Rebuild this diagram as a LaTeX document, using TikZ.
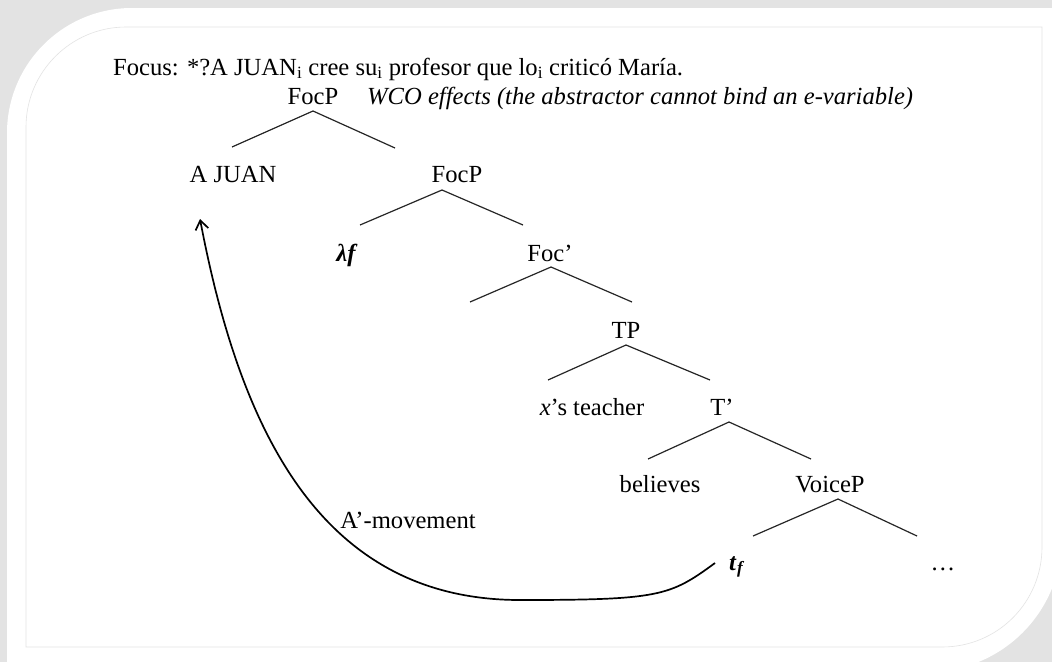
\documentclass[tikz,border=0pt]{standalone}
\usepackage{fontspec}
\setmainfont{Liberation Serif}
\usetikzlibrary{arrows.meta}
\begin{document}
\begin{tikzpicture}[x=1pt,y=-1pt,
  lbl/.style={font=\fontsize{24.6}{28}\selectfont, inner sep=0pt, anchor=base, text=black},
  branch/.style={line width=1.2pt, draw=black!85},
  mv/.style={line width=1.7pt, draw=black, -{Straight Barb[length=9pt,width=13pt,line width=1.7pt]}}]
\useasboundingbox (0,0) rectangle (1052,662);
% frame
\fill[gray!22] (0,0) rectangle (1052,662);
\fill[white] (7,672) -- (7,133) .. controls (7,64) and (63,8) .. (132,8) -- (1062,8) -- (1062,537) .. controls (1062,612) and (1002,672) .. (927,672) -- cycle;
\draw[gray!22, line width=0.6pt] (26,647) -- (26,127) .. controls (26,72) and (71,27) .. (126,27) -- (1042,27) -- (1042,547) .. controls (1042,602) and (998,647) .. (942,647) -- cycle;
% texts
\node[lbl, anchor=base west] (title) at (113,75) {Focus: *?A JUAN\textsubscript{i} cree su\textsubscript{i} profesor que lo\textsubscript{i} criticó María.};
\node[lbl] (FocPa) at (313,104) {FocP};
\node[lbl, anchor=base west, font=\fontsize{24.6}{28}\selectfont\itshape] (wco) at (367,104) {WCO effects (the abstractor cannot bind an e-variable)};
\node[lbl] (AJ) at (233,182) {A JUAN};
\node[lbl] (FocPb) at (457,182) {FocP};
\node[lbl, font=\fontsize{24.6}{28}\selectfont\bfseries\itshape] (lam) at (346,261) {λf};
\node[lbl] (Focb) at (550,261) {Foc’};
\node[lbl] (TP) at (626,338) {TP};
\node[lbl] (xt) at (592,415) {\textit{x}’s teacher};
\node[lbl] (Tb) at (722,415) {T’};
\node[lbl] (bel) at (660,492) {believes};
\node[lbl] (VP) at (830,492) {VoiceP};
\node[lbl] (tf) at (737,570) {\textbf{\textit{t}}\kern0.5pt\textsubscript{\textbf{\textit{f}}}};
\node[lbl] (dots) at (943,570) {…};
\node[lbl] (amv) at (408,528) {A’-movement};
% branches
\draw[branch] ([shift={(0,7)}]FocPa.base) -- +(-81,36);
\draw[branch] ([shift={(0,7)}]FocPa.base) -- +(82,37);
\draw[branch] ([shift={(-15,8)}]FocPb.base) -- +(-82,35);
\draw[branch] ([shift={(-15,8)}]FocPb.base) -- +(81,35);
\draw[branch] ([shift={(1,6)}]Focb.base) -- +(-81,35);
\draw[branch] ([shift={(1,6)}]Focb.base) -- +(81,35);
\draw[branch] ([shift={(0,7)}]TP.base) -- +(-78,35);
\draw[branch] ([shift={(0,7)}]TP.base) -- +(84,35);
\draw[branch] ([shift={(7,7)}]Tb.base) -- +(-81,37);
\draw[branch] ([shift={(7,7)}]Tb.base) -- +(82,37);
\draw[branch] ([shift={(8,7)}]VP.base) -- +(-85,37);
\draw[branch] ([shift={(8,7)}]VP.base) -- +(79,37);
% movement arrow
\coordinate (mvbot) at ([shift={(-217,30)}]tf.base);
\draw[mv] ([shift={(-22,-7)}]tf.base) .. controls +(-45,33) and +(140,0) .. (mvbot)
  .. controls +(-200,0) and +(40,210) .. ([shift={(-33,37)}]AJ.base);
\end{tikzpicture}
\end{document}
